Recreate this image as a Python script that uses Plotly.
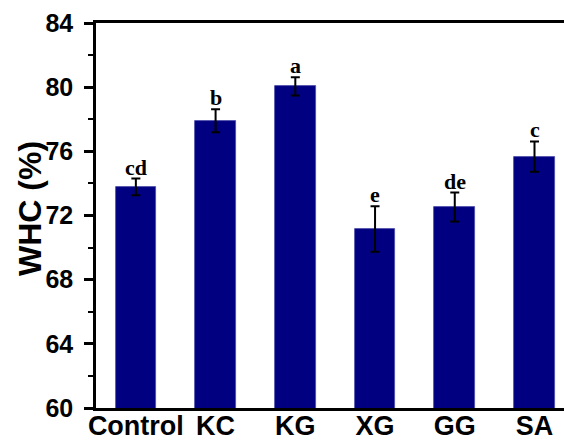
import plotly.graph_objects as go

categories = ["Control", "KC", "KG", "XG", "GG", "SA"]
whc = [73.78, 77.91, 80.05, 71.16, 72.53, 75.67]
err = [0.52, 0.72, 0.57, 1.42, 0.90, 0.95]
letters = ["cd", "b", "a", "e", "de", "c"]

fig = go.Figure()
fig.add_trace(go.Bar(
    x=categories, y=whc, width=0.51,
    marker=dict(color="#000080", line=dict(color="#4a4aa8", width=0.8)),
    error_y=dict(type="data", array=err, visible=True, color="black",
                 thickness=2, width=4.5),
))

for c, v, e, t in zip(categories, whc, err, letters):
    fig.add_annotation(x=c, y=v + e, text=t, showarrow=False,
                       yanchor="bottom", yshift=-3,
                       font=dict(family="Liberation Serif", size=22, color="black", weight="bold"))

fig.add_annotation(xref="paper", yref="paper", x=(30 - 96) / 468, y=0.517,
                   text="WHC (%)", showarrow=False, textangle=-90,
                   xanchor="center", yanchor="middle",
                   font=dict(family="Liberation Sans", size=32, color="black", weight="bold"))

fig.update_layout(
    width=564, height=441,
    margin=dict(l=96, r=0, t=23, b=33),
    paper_bgcolor="white", plot_bgcolor="white",
    showlegend=False,
    font=dict(family="Liberation Sans", color="black"),
    bargap=0,
)
fig.update_xaxes(
    range=[-0.5, 5.37], showline=True, linecolor="black", linewidth=2.5,
    mirror=True, ticks="", showgrid=False, zeroline=False, automargin=False,
    ticklabelstandoff=-8,
    tickfont=dict(family="Liberation Sans", size=27, color="black", weight="bold"),
)
fig.update_yaxes(
    range=[60, 84], dtick=4, tick0=60, showline=True, linecolor="black", linewidth=2.5,
    ticks="outside", ticklen=9, tickwidth=2.5, tickcolor="black",
    minor=dict(dtick=2, tick0=60, ticks="outside", ticklen=5, tickwidth=2, tickcolor="black"),
    showgrid=False, zeroline=False, ticklabelstandoff=6, automargin=False,
    tickfont=dict(family="Liberation Sans", size=25, color="black", weight="bold"),
)

fig.write_html("out.html")
